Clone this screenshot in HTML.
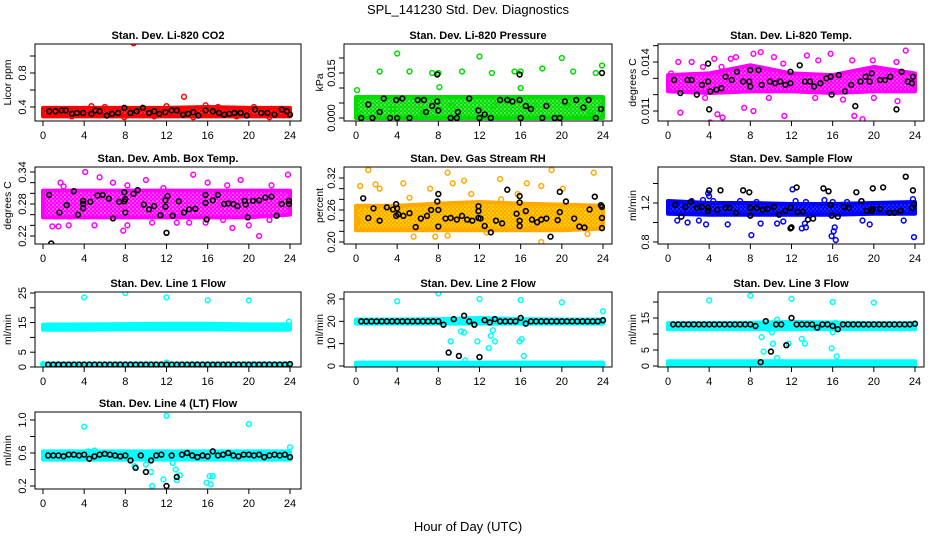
<!DOCTYPE html>
<html><head><meta charset="utf-8">
<style>
html,body{margin:0;padding:0;background:#fff;}
svg{display:block;font-family:"Liberation Sans",sans-serif;}
</style></head>
<body>
<svg id="chart" width="936" height="540" viewBox="0 0 936 540">
<text x="468" y="14" text-anchor="middle" font-size="13">SPL_141230  Std. Dev. Diagnostics</text>
<text x="468" y="531" text-anchor="middle" font-size="13">Hour of Day (UTC)</text>
</svg>
<script>
const xTicks=[0,4,8,12,16,20,24];
const hrs=[0.5,1,1.5,2,2.5,3,3.5,4,4.5,5,5.5,6,6.5,7,7.5,8,8.5,9,9.5,10,10.5,11,11.5,12,12.5,13,13.5,14,14.5,15,15.5,16,16.5,17,17.5,18,18.5,19,19.5,20,20.5,21,21.5,22,22.5,23,23.5,24];
const bandHrs=[0,4,8,12,16,20,24];

// Panel 1 CO2
const p1BandLo=[0.29,0.29,0.29,0.29,0.29,0.29,0.29];
const p1BandHi=[0.39,0.39,0.39,0.39,0.40,0.39,0.39];
const p1ColX=[8.8,13.7,15.8,2.8,4.7,7.9,10.8,14.6,18.8,22.0,0.3,6.0,12.0,17.0,20.5];
const p1ColY=[1.15,0.52,0.42,0.29,0.41,0.28,0.29,0.28,0.29,0.28,0.34,0.40,0.41,0.40,0.40];
const p1BlkX=[0.6,1.2,1.8,2.2,2.8,3.3,3.9,4.7,5.1,5.5,6.2,6.7,7.3,7.9,8.5,9.1,9.7,10.3,10.8,11.3,11.9,12.5,13.0,13.6,14.1,14.6,15.1,15.8,16.5,17.1,17.6,18.1,18.6,19.2,19.8,20.6,21.2,21.8,22.5,23.2,23.7,24.0];
const p1BlkY=[0.35,0.35,0.36,0.36,0.32,0.33,0.33,0.32,0.36,0.35,0.30,0.32,0.33,0.39,0.33,0.35,0.39,0.33,0.35,0.32,0.34,0.36,0.36,0.31,0.32,0.34,0.30,0.36,0.35,0.33,0.31,0.32,0.33,0.33,0.30,0.37,0.33,0.33,0.31,0.37,0.35,0.31];
// Panel 2 pressure
const p2BandLo=[0,0,0,0,0,0,0];
const p2BandHi=[0.007,0.007,0.007,0.007,0.007,0.007,0.007];
const p2ColX=[4.0,12.0,20.0,2.3,5.2,7.4,8.0,10.3,13.2,15.4,16.0,18.1,21.1,23.3,23.9,0.1,8.1,16.0,0.2,3.6,6.5,9.3,13.4,17.3,20.5,22.8];
const p2ColY=[0.0215,0.0205,0.020,0.0155,0.0155,0.015,0.015,0.0155,0.015,0.0155,0.0155,0.0165,0.0155,0.015,0.0175,0.0093,0.0103,0.010,0.002,0.003,0.002,0.004,0.004,0.004,0.004,0.002];
const p2BlkX=[7.9,15.9,23.9,0.5,1.6,3.3,4.0,5.2,9.2,9.8,12.0,13.1,16.0,18.1,19.3,19.8,23.3,1.2,2.3,2.7,3.9,4.5,6.0,6.6,6.8,7.4,7.9,8.0,9.9,11.0,11.9,12.5,14.0,14.7,15.2,15.9,16.5,17.0,18.5,20.3,21.4,22.1,22.6,23.8];
const p2BlkY=[0.0145,0.0145,0.015,0,0,0,0,0,0,0,0,0,0,0,0,0,0,0.0045,0.002,0.0065,0.006,0.0065,0.006,0.006,0.002,0.004,0.0055,0.0025,0.002,0.0065,0.0025,0.0012,0.006,0.006,0.0055,0.006,0.004,0.003,0.004,0.0055,0.006,0.0035,0.006,0.003];
// Panel 3 Li-820 temp
const p3BandLo=[0.0122,0.0121,0.0122,0.0122,0.0121,0.0122,0.0122];
const p3BandHi=[0.0132,0.0133,0.0138,0.0133,0.0132,0.0137,0.0133];
const p3ColX=[12.8,23.1,0.3,1.0,2.3,3.4,4.5,5.2,6.1,6.6,8.3,9.0,10.3,11.2,13.5,14.6,15.8,17.9,19.9,22.2,1.2,4.1,4.8,5.3,7.4,8.3,11.3,17.0,18.1,18.9,22.3,3.6,9.8,14.3,20.0];
const p3ColY=[0.0157,0.0147,0.0133,0.0140,0.0140,0.0137,0.0142,0.0137,0.0142,0.0143,0.0145,0.0146,0.0143,0.0139,0.0144,0.0141,0.0145,0.0141,0.0141,0.0140,0.0109,0.0103,0.0108,0.0106,0.0112,0.0110,0.0107,0.0117,0.0107,0.0105,0.0116,0.0118,0.0118,0.0118,0.0118];
const p3BlkX=[0.6,1.2,1.9,2.3,2.8,3.3,3.9,3.9,4.0,4.1,4.7,5.2,5.6,6.2,6.7,7.3,7.9,8.0,8.0,8.8,9.1,9.9,10.4,10.9,11.4,11.9,11.9,12.8,13.3,13.8,14.2,14.8,15.4,15.8,15.9,16.6,17.2,17.8,18.2,18.7,19.2,19.6,19.8,20.6,21.1,21.6,22.2,22.7,23.3,23.7,23.8];
const p3BlkY=[0.0129,0.0121,0.0129,0.0129,0.0120,0.0126,0.0128,0.0139,0.0111,0.0122,0.0123,0.0124,0.0131,0.0129,0.0134,0.0128,0.0128,0.0135,0.0125,0.0135,0.0126,0.0128,0.0127,0.0128,0.0126,0.0134,0.0127,0.0138,0.0128,0.0128,0.0125,0.0127,0.0130,0.0131,0.0120,0.0132,0.0122,0.0126,0.0113,0.0128,0.0131,0.0128,0.0133,0.0129,0.0129,0.0131,0.0111,0.0134,0.0128,0.0127,0.0131];
// Panel 4 amb box temp
const p4BandLo=[0.255,0.255,0.255,0.255,0.255,0.255,0.26];
const p4BandHi=[0.305,0.305,0.305,0.305,0.305,0.305,0.305];
const p4ColX=[0.2,1.7,2.0,4.1,5.5,6.8,8.2,10.0,11.7,14.6,16.0,17.9,19.2,22.2,23.8,0.9,1.5,2.5,5.0,7.8,8.2,10.6,13.0,14.2,15.8,17.5,18.4,20.0,21.0,22.0];
const p4ColY=[0.30,0.32,0.313,0.34,0.33,0.32,0.315,0.325,0.31,0.335,0.32,0.315,0.325,0.315,0.335,0.238,0.238,0.24,0.24,0.23,0.24,0.245,0.245,0.245,0.245,0.25,0.235,0.24,0.22,0.25];
const p4BlkX=[0.6,1.6,2.3,3.0,3.4,3.9,3.9,3.9,4.6,5.3,5.8,6.4,6.8,7.4,7.9,7.9,8.0,8.0,8.8,9.2,9.8,10.3,10.8,11.4,11.9,11.9,12.0,12.1,12.6,13.2,13.7,14.2,14.8,15.8,15.8,15.9,16.5,17.0,17.6,18.0,18.5,18.9,19.6,19.7,19.9,20.4,21.0,21.6,22.2,22.7,23.2,23.9,23.9,0.8];
const p4BlkY=[0.297,0.264,0.278,0.304,0.260,0.286,0.280,0.272,0.284,0.296,0.297,0.290,0.253,0.284,0.285,0.302,0.289,0.264,0.299,0.306,0.279,0.270,0.276,0.259,0.275,0.287,0.226,0.295,0.258,0.285,0.264,0.270,0.271,0.297,0.282,0.251,0.287,0.297,0.280,0.281,0.280,0.276,0.286,0.279,0.255,0.286,0.287,0.292,0.294,0.258,0.280,0.286,0.280,0.206];
// Panel 5 RH
const p5BandLo=[0.222,0.222,0.222,0.222,0.222,0.222,0.225];
const p5BandHi=[0.268,0.268,0.272,0.275,0.272,0.270,0.268];
const p5ColX=[0.4,1.2,1.9,4.6,5.2,8.9,9.4,10.5,14.0,14.1,15.7,16.6,18.0,19.0,20.1,23.1,2.3,7.2,11.2,18.0,5.6,8.9,7.7,12.7,17.2,22.5,0.2,23.9];
const p5ColY=[0.305,0.335,0.308,0.31,0.283,0.33,0.31,0.315,0.318,0.28,0.29,0.31,0.305,0.335,0.30,0.33,0.30,0.30,0.29,0.20,0.21,0.212,0.21,0.218,0.23,0.215,0.24,0.23];
const p5BlkX=[0.7,1.2,1.7,2.3,3.0,3.6,3.9,3.9,4.0,4.1,4.6,5.2,5.8,6.3,6.9,7.3,7.9,8.0,8.0,8.0,8.7,9.2,9.8,10.3,10.8,11.3,11.9,11.9,11.9,12.1,12.5,13.1,13.6,14.2,14.7,15.6,15.9,15.9,15.9,15.9,16.5,17.1,17.6,18.0,18.5,18.9,19.6,19.8,19.8,20.4,21.2,21.7,22.2,22.7,23.2,23.8,23.9,23.9,23.9];
const p5BlkY=[0.282,0.245,0.263,0.240,0.265,0.261,0.271,0.249,0.263,0.252,0.249,0.254,0.228,0.244,0.249,0.260,0.276,0.229,0.260,0.290,0.244,0.245,0.242,0.249,0.242,0.240,0.267,0.258,0.245,0.244,0.230,0.218,0.240,0.235,0.298,0.253,0.286,0.274,0.240,0.230,0.258,0.242,0.237,0.242,0.244,0.210,0.241,0.256,0.294,0.276,0.244,0.229,0.227,0.261,0.285,0.269,0.266,0.245,0.226];
// Panel 6 sample flow
const p6BandLo=[1.09,1.08,1.08,1.08,1.08,1.09,1.09];
const p6BandHi=[1.22,1.20,1.20,1.19,1.19,1.20,1.21];
const p6ColX=[12.1,3.9,4.0,3.4,4.4,2.3,7.0,8.6,12.4,13.4,15.2,16.0,17.4,23.8,0.9,1.9,3.0,3.7,5.8,8.1,9.0,10.6,11.2,13.0,13.4,13.3,15.9,16.1,16.3,16.2,18.9,19.6,23.9,22.9];
const p6ColY=[1.34,1.30,1.27,1.23,1.22,1.22,1.22,1.21,1.22,1.21,1.23,1.21,1.21,1.24,1.02,1.00,1.02,0.98,0.98,0.87,0.99,0.99,1.01,0.94,0.95,0.99,0.86,0.91,0.82,0.95,1.02,0.98,0.85,1.02];
const p6BlkX=[0.7,1.3,1.7,2.2,2.8,3.3,3.9,3.9,4.0,5.1,4.8,5.6,6.0,6.6,7.3,7.9,8.0,8.0,8.6,9.2,9.7,10.3,10.8,11.4,11.9,11.9,12.0,12.5,12.6,13.1,13.6,14.1,15.1,15.6,15.8,15.9,16.5,17.1,17.6,18.3,18.8,19.3,19.8,19.9,19.9,20.9,20.6,21.5,22.0,22.6,23.1,23.7,23.9,23.8];
const p6BlkY=[1.18,1.06,1.16,1.21,1.15,1.16,1.15,1.12,1.33,1.33,1.13,1.15,1.15,1.10,1.33,1.31,1.15,1.07,1.15,1.13,1.14,1.16,1.08,1.12,1.15,0.94,0.95,1.36,1.11,1.11,1.03,1.04,1.35,1.32,1.18,1.07,1.06,1.16,1.15,1.31,1.22,1.12,1.12,1.35,1.14,1.36,1.14,1.10,1.10,1.12,1.47,1.15,1.19,1.33];
// Panel 7 line 1
const p7BandLo=[12.6,12.6,12.7,12.7,12.7,12.6,12.6];
const p7BandHi=[14.3,14.4,14.5,14.6,14.6,14.4,14.4];
const p7Band2Lo=[0,0,0,0,0,0,0];
const p7Band2Hi=[1.2,1.2,1.2,1.2,1.2,1.2,1.2];
const p7ColX=[4,8,12,16,20,23.9,0,12];
const p7ColY=[23.5,25,23.5,22.5,22.5,15.3,1,1.5];
const p7BlkY=[0.8,0.8,0.8,0.8,0.8,0.8,0.8,0.8,0.8,0.8,0.8,0.8,0.8,0.8,0.8,0.8,0.8,0.8,0.8,0.8,0.8,0.8,0.8,0.8,0.8,0.8,0.8,0.8,0.8,0.8,0.8,0.8,0.8,0.8,0.8,0.8,0.8,0.8,0.8,0.8,0.8,0.8,0.8,0.8,0.8,0.8,0.8,1.0];
// Panel 8 line 2
const p8BandLo=[19,19,19,19,19,19,19];
const p8BandHi=[20.8,20.8,21,21.5,21,20.8,20.8];
const p8Band2Lo=[0,0,0,0,0,0,0];
const p8Band2Hi=[1.5,1.5,1.5,1.5,1.5,1.5,1.5];
const p8ColX=[4,8,12,16,20,24,9.2,10.2,10.5,10.6,11.8,12.9,13.1,13.3,13.5,15.9,16.1,16.3,10.3,12.8];
const p8ColY=[29,32.5,30,29.5,28.5,24.5,11,15.5,15,2.5,11,8,13.5,16,11,11,12,4.5,20,21];
const p8BlkY=[20,20,20,20,20,20,20,20,20,20,20,20,20,20,20,20,18.5,6,21,4.5,22.5,20,18.5,4,20.5,19.5,21,20,20,20,20,21.5,19,20,20,20,20,20,20,20,20,20,20,20,20,20,20,20.5];
// Panel 9 line 3
const p9BandLo=[11.5,11.5,11.5,11.5,11.5,11.5,11.5];
const p9BandHi=[13.4,13.4,13.5,13.8,13.6,13.4,13.4];
const p9Band2Lo=[0,0,0,0,0,0,0];
const p9Band2Hi=[1.5,1.5,1.5,1.5,1.5,1.5,1.5];
const p9ColX=[4,8,12,16,20,9.1,9.3,10.1,10.2,10.6,10.6,11.7,13.0,13.3,15.9,16.0,16.4,16.3,9.8];
const p9ColY=[20.5,22,21,20,19.8,9,4.5,10.5,7,2.5,14.5,7,8.5,7,5.5,10.5,3,13.5,11.5];
const p9BlkY=[13,13,13,13,13,13,13,13,13,13,13,13,13,13,13,13,12.5,1.2,14,4.5,13,13,6.5,15,13,13,13,13,12,13,13,12.5,11.5,13,13,13,13,13,13,13,13,13,13,13,13,13,13,13.2];
// Panel 10 line 4
const p10BandLo=[0.52,0.52,0.52,0.52,0.52,0.52,0.52];
const p10BandHi=[0.62,0.62,0.62,0.62,0.62,0.62,0.62];
const p10ColX=[4,12,20,24,8.9,10.0,10.6,10.5,11.7,12.6,12.9,13.0,13.3,15.9,16.2,16.5,16.3,5.0,4.4];
const p10ColY=[0.92,1.05,0.95,0.67,0.44,0.46,0.2,0.37,0.28,0.48,0.40,0.27,0.33,0.24,0.32,0.32,0.22,0.63,0.62];
const p10BlkY=[0.57,0.57,0.57,0.56,0.58,0.58,0.57,0.58,0.53,0.56,0.58,0.59,0.58,0.57,0.56,0.57,0.51,0.42,0.57,0.37,0.51,0.57,0.58,0.2,0.57,0.31,0.58,0.6,0.57,0.55,0.57,0.56,0.62,0.57,0.58,0.6,0.57,0.56,0.58,0.58,0.57,0.58,0.55,0.57,0.58,0.57,0.58,0.55];

const cols=[{l:35,r:301,x0:43,x24:290,yl:11},{l:344,r:612,x0:356,x24:603,yl:323},{l:658,r:924,x0:668,x24:915,yl:636}];
const rows=[{t:44,b:121},{t:167,b:244},{t:292,b:367},{t:412,b:489}];
const panels=[
 {name:'co2',title:'Stan. Dev. Li-820 CO2',ylab:'Licor ppm',c:0,r:0,v0:0.4,p0:107,v1:0.8,p1:73,ticks:[0.4,0.6,0.8,1.0],lab:['0.4','','0.8',''],color:'#ff0000',dot:'#ff6060',bands:[[p1BandLo,p1BandHi]],cx:p1ColX,cy:p1ColY,bx:p1BlkX,by:p1BlkY},
 {name:'pressure',title:'Stan. Dev. Li-820 Pressure',ylab:'kPa',c:1,r:0,v0:0,p0:118,v1:0.015,p1:73,ticks:[0,0.005,0.01,0.015,0.02],lab:['0.000','','','0.015',''],color:'#00dd00',dot:'#b0f0b0',bands:[[p2BandLo,p2BandHi]],cx:p2ColX,cy:p2ColY,bx:p2BlkX,by:p2BlkY},
 {name:'li820-temp',title:'Stan. Dev. Li-820 Temp.',ylab:'degrees C',c:2,r:0,v0:0.011,p0:111,v1:0.014,p1:62,ticks:[0.011,0.012,0.013,0.014,0.015],lab:['0.011','','','0.014',''],color:'#ff00ff',dot:'#ff90ff',bands:[[p3BandLo,p3BandHi]],cx:p3ColX,cy:p3ColY,bx:p3BlkX,by:p3BlkY},
 {name:'amb-box-temp',title:'Stan. Dev. Amb. Box Temp.',ylab:'degrees C',c:0,r:1,v0:0.22,p0:236,v1:0.34,p1:172,ticks:[0.22,0.24,0.26,0.28,0.30,0.32,0.34],lab:['0.22','','','0.28','','','0.34'],color:'#ff00ff',dot:'#ffb0ff',bands:[[p4BandLo,p4BandHi]],cx:p4ColX,cy:p4ColY,bx:p4BlkX,by:p4BlkY},
 {name:'gas-rh',title:'Stan. Dev. Gas Stream RH',ylab:'percent',c:1,r:1,v0:0.20,p0:242,v1:0.32,p1:178,ticks:[0.20,0.22,0.24,0.26,0.28,0.30,0.32],lab:['0.20','','','0.26','','','0.32'],color:'#ffaa00',dot:'#ffff00',bands:[[p5BandLo,p5BandHi]],cx:p5ColX,cy:p5ColY,bx:p5BlkX,by:p5BlkY},
 {name:'sample-flow',title:'Stan. Dev. Sample Flow',ylab:'ml/min',c:2,r:1,v0:0.8,p0:242,v1:1.2,p1:203,ticks:[0.8,1.0,1.2,1.4],lab:['0.8','','1.2',''],color:'#0000ff',dot:'#4060ff',bands:[[p6BandLo,p6BandHi]],cx:p6ColX,cy:p6ColY,bx:p6BlkX,by:p6BlkY},
 {name:'line1-flow',title:'Stan. Dev. Line 1 Flow',ylab:'ml/min',c:0,r:2,v0:0,p0:367,v1:25,p1:293,ticks:[0,5,10,15,20,25],lab:['0','5','','15','','25'],color:'#00ffff',dot:'#00ffff',bands:[[p7BandLo,p7BandHi],[p7Band2Lo,p7Band2Hi]],cx:p7ColX,cy:p7ColY,bx:hrs,by:p7BlkY},
 {name:'line2-flow',title:'Stan. Dev. Line 2 Flow',ylab:'ml/min',c:1,r:2,v0:0,p0:366,v1:30,p1:299,ticks:[0,10,20,30],lab:['0','10','20','30'],color:'#00ffff',dot:'#00ffff',bands:[[p8BandLo,p8BandHi],[p8Band2Lo,p8Band2Hi]],cx:p8ColX,cy:p8ColY,bx:hrs,by:p8BlkY},
 {name:'line3-flow',title:'Stan. Dev. Line 3 Flow',ylab:'ml/min',c:2,r:2,v0:0,p0:366,v1:15,p1:318,ticks:[0,5,10,15,20],lab:['0','5','','15',''],color:'#00ffff',dot:'#00ffff',bands:[[p9BandLo,p9BandHi],[p9Band2Lo,p9Band2Hi]],cx:p9ColX,cy:p9ColY,bx:hrs,by:p9BlkY},
 {name:'line4-flow',title:'Stan. Dev. Line 4 (LT) Flow',ylab:'ml/min',c:0,r:3,v0:0.2,p0:486,v1:1.0,p1:420,ticks:[0.2,0.4,0.6,0.8,1.0],lab:['0.2','','0.6','','1.0'],color:'#00ffff',dot:'#00ffff',bands:[[p10BandLo,p10BandHi]],cx:p10ColX,cy:p10ColY,bx:hrs,by:p10BlkY}
];
const NS='http://www.w3.org/2000/svg';
const svg=document.getElementById('chart');
const defs=document.createElementNS(NS,'defs');svg.appendChild(defs);
function mk(tag,attrs,parent){const e=document.createElementNS(NS,tag);for(const k in attrs)e.setAttribute(k,attrs[k]);(parent||svg).appendChild(e);return e;}
panels.forEach(p=>{
 const C=cols[p.c],R=rows[p.r];
 const xs=h=>C.x0+h*(C.x24-C.x0)/24;
 const ys=v=>p.p0+(v-p.v0)*(p.p1-p.p0)/(p.v1-p.v0);
 const pat=mk('pattern',{id:'pat-'+p.name,width:4,height:4,patternUnits:'userSpaceOnUse'},defs);
 mk('rect',{width:4,height:4,fill:p.color},pat);
 mk('circle',{cx:1,cy:1,r:0.8,fill:p.dot},pat);
 mk('circle',{cx:3,cy:3,r:0.6,fill:p.dot},pat);
 const g=mk('g',{});
 
 
 const cp='clip-'+p.name;
 const cl=mk('clipPath',{id:cp},g);mk('rect',{x:C.l,y:R.t,width:C.r-C.l,height:R.b-R.t},cl);
 const t=mk('text',{x:(C.l+C.r)/2,y:R.t-5,'text-anchor':'middle','font-size':'11','font-weight':'bold'},g);t.textContent=p.title;
 
 
 const yl=mk('text',{x:C.yl,y:(R.t+R.b)/2,'text-anchor':'middle','font-size':'10.5',transform:`rotate(-90 ${C.yl} ${(R.t+R.b)/2})`},g);yl.textContent=p.ylab;
 
 
 const data=mk('g',{'clip-path':`url(#${cp})`},g);
 p.bands.forEach(b=>{
  let pts=bandHrs.map((h,i)=>xs(h)+','+ys(b[1][i]));
  pts=pts.concat(bandHrs.slice().reverse().map((h,j)=>{const i=bandHrs.length-1-j;return xs(h)+','+ys(b[0][i]);}));
  const pg=mk('polygon',{points:pts.join(' '),fill:`url(#pat-${p.name})`,stroke:p.color,'stroke-width':'4','stroke-linejoin':'round'},data);
  
  
 });
 p.cx.forEach((h,i)=>{const c=mk('circle',{cx:xs(h),cy:ys(p.cy[i]),r:2.4,fill:'none',stroke:p.color,'stroke-width':'1.5'},data);
  
  });
 p.bx.forEach((h,i)=>{const c=mk('circle',{cx:xs(h),cy:ys(p.by[i]),r:2.4,fill:'none',stroke:'#000','stroke-width':'1.6'},data);
  
  });
 const box=mk('rect',{x:C.l,y:R.t,width:C.r-C.l,height:R.b-R.t,fill:'none',stroke:'#000','stroke-width':'1'},g);
 
 
 const yv=p.ticks.map(ys);
 mk('line',{x1:C.l,x2:C.l,y1:Math.min(...yv),y2:Math.max(...yv),stroke:'#000'},g);
 p.ticks.forEach((v,i)=>{const y=ys(v);mk('line',{x1:C.l-5,x2:C.l,y1:y,y2:y,stroke:'#000'},g);
  if(p.lab[i]){const tx=mk('text',{x:C.l-9,y:y,'text-anchor':'middle','font-size':'11',transform:`rotate(-90 ${C.l-9} ${y})`},g);tx.textContent=p.lab[i];
   
   }});
 xTicks.forEach(h=>{const x=xs(h);mk('line',{x1:x,x2:x,y1:R.b,y2:R.b+5,stroke:'#000'},g);
  const tx=mk('text',{x:x,y:R.b+18,'text-anchor':'middle','font-size':'11'},g);tx.textContent=String(h);
  
  });
});
</script>
</body></html>
